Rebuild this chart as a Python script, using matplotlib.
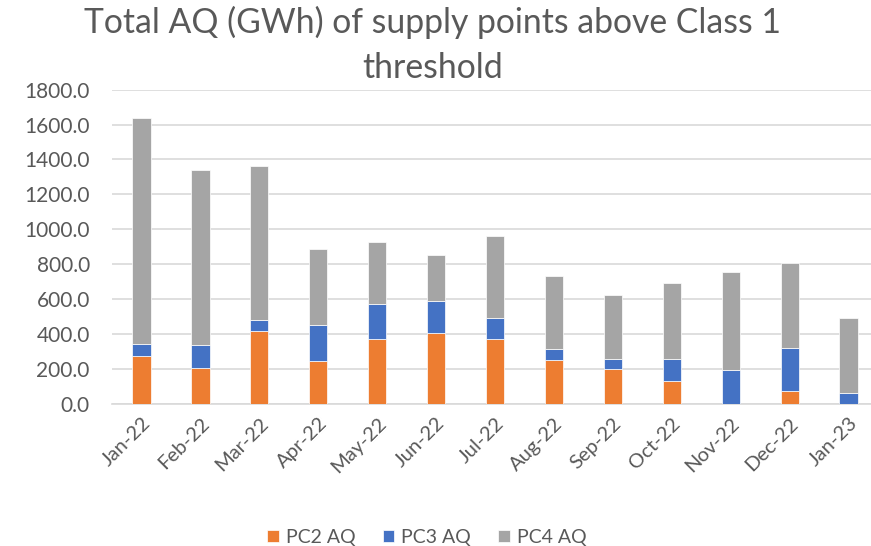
import numpy as np
import matplotlib.pyplot as plt

plt.rcParams['font.family'] = ['Lato', 'DejaVu Sans']

months = ['Jan-22', 'Feb-22', 'Mar-22', 'Apr-22', 'May-22', 'Jun-22', 'Jul-22',
          'Aug-22', 'Sep-22', 'Oct-22', 'Nov-22', 'Dec-22', 'Jan-23']
pc2 = [271, 201, 415, 241, 369, 402, 371, 251, 197, 130, 0, 71, 0]
pc3 = [69, 134, 65, 210, 203, 187, 119, 59, 58, 128, 195, 245, 60]
pc4 = [1296, 1002, 880, 433, 354, 262, 471, 421, 365, 433, 557, 488, 432]

c2, c3, c4 = '#ED7D31', '#4472C4', '#A5A5A5'
txt = '#595959'

fig = plt.figure(figsize=(8.71, 5.46), dpi=100)
ax = fig.add_axes([112/871, 1-403.5/546, 1-112/871, (403.5-89.7)/546])

x = np.arange(len(months))
w = 0.31
b2 = np.array(pc2)
b3 = b2 + np.array(pc3)
ax.bar(x, pc2, w, color=c2, label='PC2 AQ', edgecolor='white', linewidth=0.5, zorder=3)
ax.bar(x, pc3, w, bottom=b2, color=c3, label='PC3 AQ', edgecolor='white', linewidth=0.5, zorder=3)
ax.bar(x, pc4, w, bottom=b3, color=c4, label='PC4 AQ', edgecolor='white', linewidth=0.5, zorder=3)

ax.set_ylim(0, 1800)
ax.set_xlim(-0.5, 12.38)
ax.set_yticks(np.arange(0, 1801, 200))
ax.set_yticklabels([f'{v:.1f}' for v in np.arange(0, 1801, 200)], fontsize=15, color=txt)
ax.set_xticks(x)
ax.set_xticklabels(months, rotation=45, ha='right', rotation_mode='anchor', fontsize=14.5, color=txt)
ax.tick_params(length=0)
ax.tick_params(axis='y', pad=16)
ax.tick_params(axis='x', pad=8)
ax.grid(axis='y', color='#D9D9D9', linewidth=1.2, zorder=0)
for s in ['top', 'right', 'left']:
    ax.spines[s].set_visible(False)
ax.spines['bottom'].set_color('#D9D9D9')
ax.spines['bottom'].set_linewidth(1.2)

fig.text(0.497, 0.99, 'Total AQ (GWh) of supply points above Class 1\nthreshold',
         ha='center', va='top', fontsize=24.3, color=txt, linespacing=1.5)

fig.legend(loc='lower center', bbox_to_anchor=(0.49, -0.032), ncol=3, frameon=False,
           fontsize=14, handlelength=0.6, handleheight=0.6, handletextpad=0.35,
           columnspacing=1.4, labelcolor=txt)

fig.savefig('out.png', dpi=100)
